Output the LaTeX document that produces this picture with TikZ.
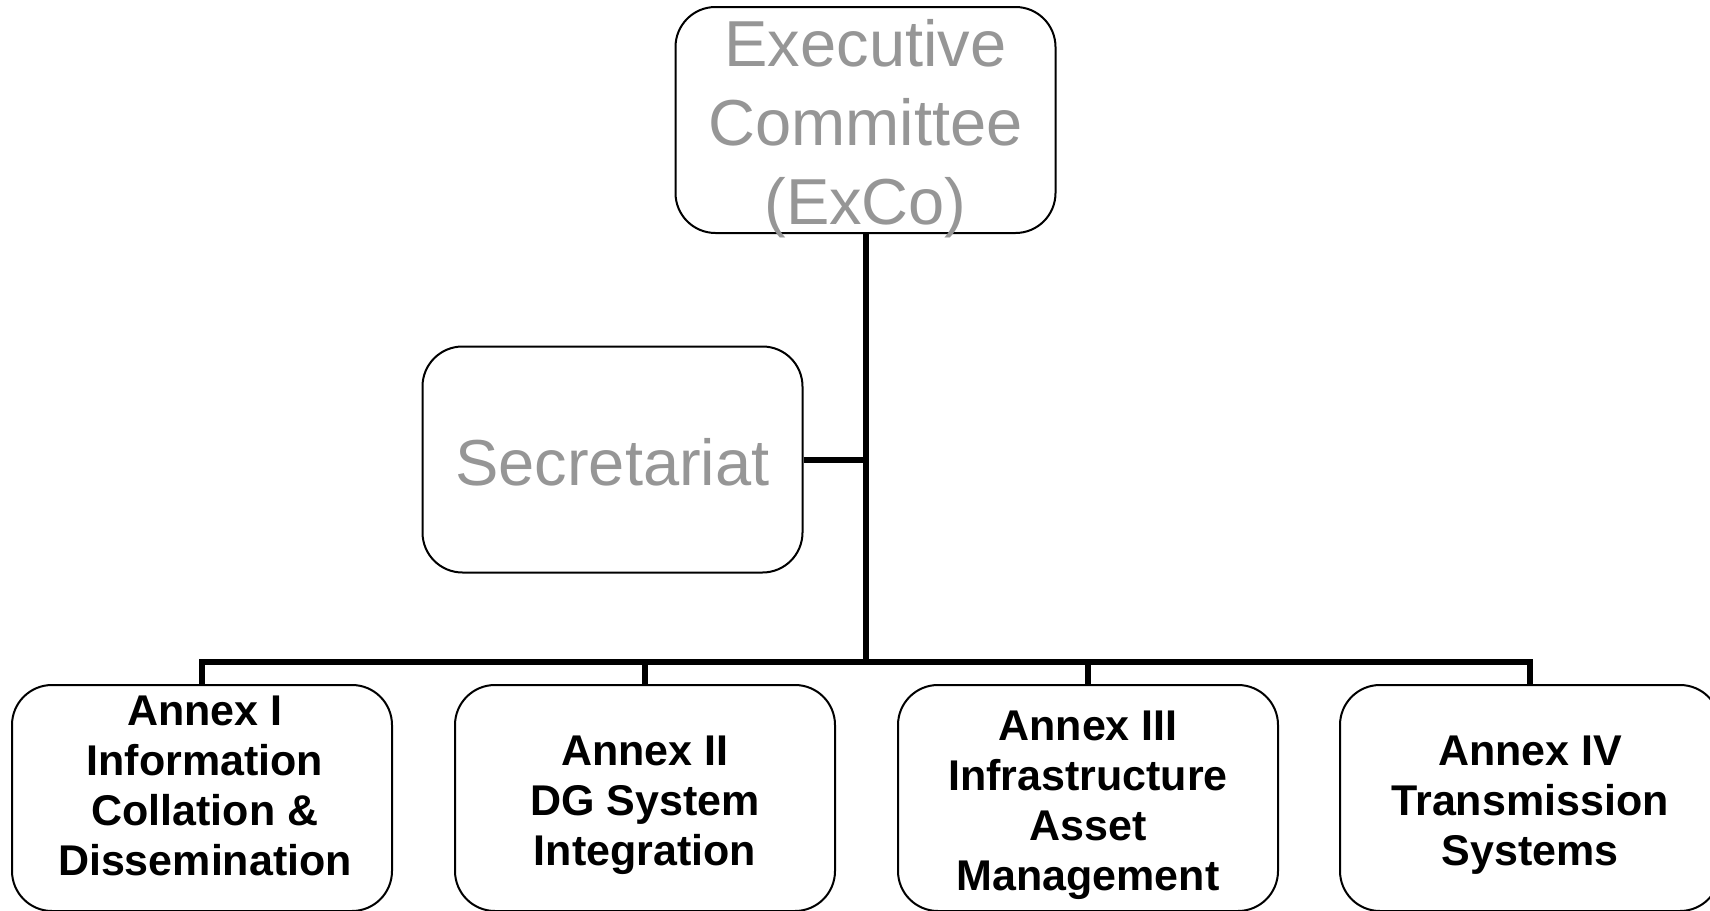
\documentclass[tikz,border=0pt]{standalone}
\usepackage{fontspec}
\setmainfont{Liberation Sans}
\definecolor{txtgray}{RGB}{150,150,150}
\begin{document}
\begin{tikzpicture}[x=1pt,y=-1pt,
  box/.style={draw=black, line width=2pt, rounded corners=40pt, minimum width=380pt, minimum height=226pt, inner sep=0pt, fill=white},
  toptext/.style={text=txtgray, align=center, inner sep=0pt, font=\fontsize{65}{79}\selectfont},
  annex/.style={align=center, inner sep=0pt, font=\fontsize{43}{50}\selectfont\bfseries},
  conn/.style={line width=6pt}]
\useasboundingbox (0,0) rectangle (1710,910);
% boxes
\node[box] (exco) at (865.5,120) {};
\node[box] (sec) at (612.5,459.5) {};
\node[box] (a1) at (202,798) {};
\node[box] (a2) at (645,798) {};
\node[box] (a3) at (1088,798) {};
\node[box] (a4) at (1530,798) {};
\coordinate (bus) at (exco.south |- 0,662);
\coordinate (secj) at (exco.south |- sec.east);
% connectors
\draw[conn] (exco.south) -- (bus);
\draw[conn] (sec.east) -- (secj);
\draw[conn] (a1.north) -- (a1.north |- bus) -- (a4.north |- bus) -- (a4.north);
\draw[conn] (a2.north) -- (a2.north |- bus);
\draw[conn] (a3.north) -- (a3.north |- bus);
% texts
\node[toptext] (excot) at (865.5,129) {Executive\\Committee\\(ExCo)};
\node[toptext] (sect) at (612.5,462.5) {Secretariat};
\node[annex] (a1t) at (205,786) {Annex I\\Information\\Collation \&\\Dissemination};
\node[annex] (a2t) at (645,805) {Annex II\\DG System\\Integration};
\node[annex] (a3t) at (1088,805) {Annex III\\Infrastructure\\Asset\\Management};
\node[annex] (a4t) at (1530,805) {Annex IV\\Transmission\\Systems};
\end{tikzpicture}
\end{document}
